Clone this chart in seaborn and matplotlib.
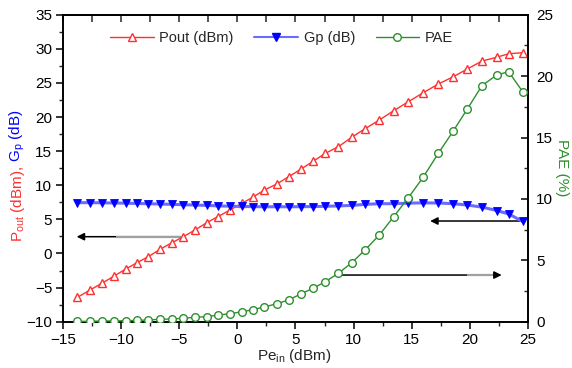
import matplotlib
matplotlib.use("Agg")
import matplotlib.pyplot as plt
from matplotlib.lines import Line2D
from matplotlib.ticker import MultipleLocator
import numpy as np
import pandas as pd
import seaborn as sns

# Input drive (dBm), shared by all three curves
pe_in = [-13.79, -12.70, -11.69, -10.66, -9.63, -8.65, -7.68, -6.67, -5.64, -4.66,
         -3.66, -2.65, -1.70, -0.64, 0.37, 1.31, 2.31, 3.38, 4.41, 5.45,
         6.51, 7.57, 8.69, 9.84, 10.99, 12.22, 13.46, 14.72, 16.01, 17.30,
         18.59, 19.80, 21.06, 22.33, 23.36, 24.57]

# Output power (dBm)
pout = [-6.43, -5.36, -4.37, -3.35, -2.28, -1.35, -0.47, 0.61, 1.58, 2.46,
        3.44, 4.51, 5.39, 6.37, 7.35, 8.23, 9.30, 10.18, 11.25, 12.34,
        13.51, 14.68, 15.65, 17.03, 18.29, 19.56, 20.93, 22.25, 23.57, 24.84,
        25.91, 27.04, 28.21, 28.76, 29.28, 29.43]

# Power gain (dB)
gp = [7.45, 7.45, 7.43, 7.40, 7.38, 7.33, 7.30, 7.25, 7.20, 7.15,
      7.10, 7.05, 6.98, 6.93, 6.90, 6.87, 6.85, 6.85, 6.85, 6.86,
      6.88, 6.92, 6.97, 7.05, 7.20, 7.30, 7.30, 7.38, 7.42, 7.40,
      7.30, 7.10, 6.80, 6.30, 5.80, 4.70]

# Power added efficiency (%)
pae = [0.03, 0.03, 0.06, 0.06, 0.08, 0.11, 0.14, 0.20, 0.22, 0.28,
       0.36, 0.41, 0.53, 0.66, 0.80, 0.98, 1.20, 1.46, 1.77, 2.26,
       2.72, 3.26, 3.94, 4.80, 5.84, 7.06, 8.55, 10.10, 11.78, 13.71,
       15.53, 17.32, 19.22, 20.09, 20.36, 18.73]

x_ticks = [-15, -10, -5, 0, 5, 10, 15, 20, 25]
left_ticks = [-10, -5, 0, 5, 10, 15, 20, 25, 30, 35]
right_ticks = [0, 5, 10, 15, 20, 25]

df = pd.DataFrame({"pe_in": pe_in, "pout": pout, "gp": gp, "pae": pae})

sns.set_theme(style="white")
plt.rcParams["font.family"] = ["Liberation Sans", "DejaVu Sans"]
plt.rcParams["mathtext.fontset"] = "custom"
plt.rcParams["mathtext.rm"] = "Liberation Sans"
plt.rcParams["mathtext.it"] = "Liberation Sans"

RED = "#ff3030"
BLUE = "#0000ff"
BLUE_LINE = "#6b6bff"
GREEN = "#2f8f2f"

fig = plt.figure(figsize=(5.72, 3.68), dpi=100)
ax = fig.add_axes([0.1107, 0.1258, 0.8118, 0.8342])
ax2 = ax.twinx()

sns.lineplot(data=df, x="pe_in", y="pout", ax=ax, color=RED, lw=1.0,
             marker="^", markersize=6, markerfacecolor="white",
             markeredgecolor=RED, markeredgewidth=1.0, zorder=3)
sns.lineplot(data=df, x="pe_in", y="gp", ax=ax, color=BLUE_LINE, lw=2.2,
             marker="v", markersize=6, markerfacecolor=BLUE,
             markeredgecolor=BLUE, markeredgewidth=0.6, zorder=3)
sns.lineplot(data=df, x="pe_in", y="pae", ax=ax2, color=GREEN, lw=1.0,
             marker="o", markersize=5.5, markerfacecolor="white",
             markeredgecolor=GREEN, markeredgewidth=1.0, zorder=3)

ax.set_xlim(-15, 25)
ax.set_ylim(-10, 35)
ax2.set_ylim(0, 25)
ax.set_xticks(x_ticks)
ax.set_yticks(left_ticks)
ax2.set_yticks(right_ticks)
ax.xaxis.set_minor_locator(MultipleLocator(2.5))
ax.yaxis.set_minor_locator(MultipleLocator(2.5))
ax2.yaxis.set_minor_locator(MultipleLocator(2.5))

ax.set_xlabel("")
ax.set_ylabel("")
ax2.set_ylabel("")

for a in (ax, ax2):
    for s in a.spines.values():
        s.set_color("black")
        s.set_linewidth(1.2)

ax.tick_params(axis="both", which="major", direction="out", length=5, width=1.1,
               labelsize=11, colors="black", pad=3, left=True, bottom=True,
               right=False, top=False)
ax.tick_params(axis="both", which="minor", direction="out", length=3, width=1.0,
               left=True, bottom=True, right=False, top=False)
ax2.tick_params(axis="y", which="major", direction="in", length=5, width=1.1,
                labelsize=11, colors="black", pad=6, right=True, left=False)
ax2.tick_params(axis="y", which="minor", direction="in", length=3, width=1.0,
                right=True, left=False)

# inward ticks along the top edge
top = ax.secondary_xaxis("top")
top.set_xticks(x_ticks)
top.xaxis.set_minor_locator(MultipleLocator(2.5))
top.tick_params(which="both", direction="in", length=5, width=1.1, labeltop=False)
top.spines["top"].set_linewidth(1.2)

# arrows pointing each curve to its axis
def arrow(x_from, x_to, y, grey_from=None, grey_to=None):
    ax.annotate("", xy=(x_to, y), xytext=(x_from, y),
                arrowprops=dict(arrowstyle="-|>", color="black", lw=1.1,
                                mutation_scale=11, shrinkA=0, shrinkB=0),
                zorder=2)
    if grey_from is not None:
        ax.plot([grey_from, grey_to], [y, y], color="#a0a0a0", lw=1.6,
                solid_capstyle="butt", zorder=2)

arrow(-4.9, -13.85, 2.46, -4.9, -10.5)
arrow(24.7, 16.6, 4.76)
arrow(8.98, 22.76, -3.16, 19.75, 22.0)

# legend
handles = [
    Line2D([], [], color=RED, lw=1.0, marker="^", markersize=6,
           markerfacecolor="white", markeredgecolor=RED),
    Line2D([], [], color=BLUE_LINE, lw=1.5, marker="v", markersize=6,
           markerfacecolor=BLUE, markeredgecolor=BLUE),
    Line2D([], [], color=GREEN, lw=1.0, marker="o", markersize=5.5,
           markerfacecolor="white", markeredgecolor=GREEN),
]
ax.legend(handles, ["Pout (dBm)", "Gp (dB)", "PAE"], loc="center",
          bbox_to_anchor=(0.47, 0.924), ncol=3, frameon=False, fontsize=10.5,
          handlelength=3.0, handletextpad=0.4, columnspacing=1.4)

# axis titles
fig.text(0.515, 0.022, r"Pe$_{\mathrm{in}}$ (dBm)", ha="center", va="baseline",
         fontsize=11)
fig.text(0.982, 0.545, "PAE (%)", rotation=270, ha="center", va="center",
         fontsize=11, color=GREEN)

t_red = fig.text(0.031, 0.342, r"P$_{\mathrm{out}}$ (dBm),", rotation=90,
                 ha="center", va="bottom", fontsize=11, color=RED)
fig.canvas.draw()
bb = t_red.get_window_extent(renderer=fig.canvas.get_renderer())
y_next = (bb.y1 + 4) / fig.bbox.height
fig.text(0.031, y_next, r"G$_{\mathrm{p}}$ (dB)", rotation=90,
         ha="center", va="bottom", fontsize=11, color=BLUE)

fig.savefig("out.png", dpi=100)
